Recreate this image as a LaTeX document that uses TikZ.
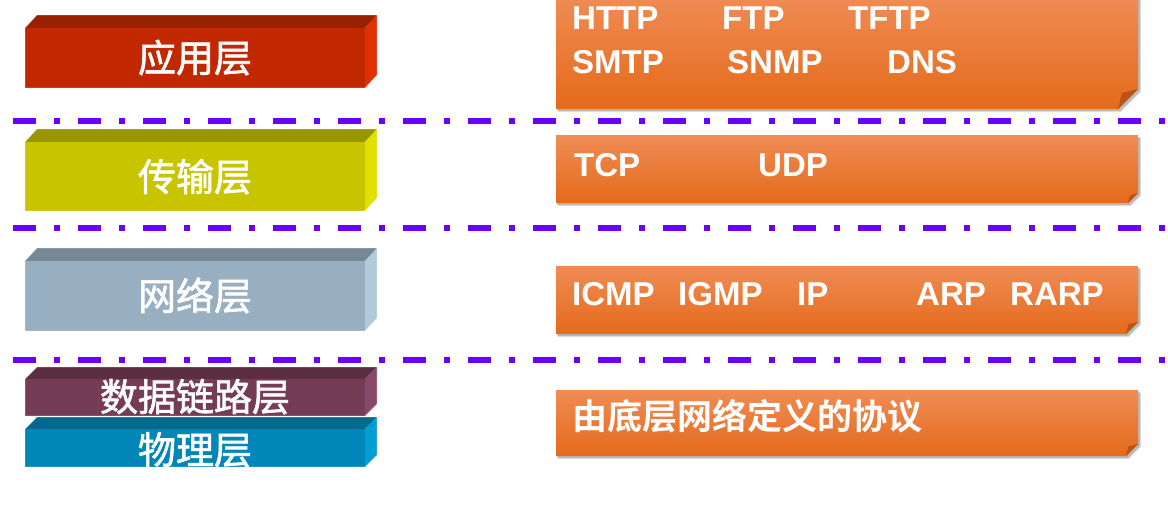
\documentclass[tikz,border=0pt]{standalone}
\usepackage{fontspec}
\setmainfont{Liberation Sans}
\newfontfamily\cjk[FakeBold=1.6]{Noto Sans CJK SC}
\newfontfamily\cjkb{Noto Sans CJK SC Bold}
\definecolor{sep}{HTML}{6A00FF}
\definecolor{orT}{HTML}{F08C55}
\definecolor{orM}{HTML}{F37E2F}
\definecolor{orB}{HTML}{E46A1B}
\definecolor{orF}{HTML}{B95414}
\definecolor{rF}{HTML}{C22800}\definecolor{rT}{HTML}{992000}\definecolor{rS}{HTML}{E03000}
\definecolor{yF}{HTML}{C8C400}\definecolor{yT}{HTML}{9A9600}\definecolor{yS}{HTML}{E0E000}
\definecolor{gF}{HTML}{98AFC2}\definecolor{gT}{HTML}{758896}\definecolor{gS}{HTML}{B0CADB}
\definecolor{pF}{HTML}{763C55}\definecolor{pT}{HTML}{5C2E42}\definecolor{pS}{HTML}{86496A}
\definecolor{bF}{HTML}{0087B8}\definecolor{bT}{HTML}{006A8E}\definecolor{bS}{HTML}{009ED4}
\tikzset{
  sepline/.style={draw=sep, line width=5.5pt, dash pattern=on 23pt off 18pt on 6pt off 18pt},
  cjklabel/.style={text=white, inner sep=0pt, anchor=base, font=\cjk\fontsize{38}{40}\selectfont},
  proto/.style={text=white, inner sep=0pt, anchor=base west, font=\bfseries\fontsize{33}{36}\selectfont},
  protocjk/.style={text=white, inner sep=0pt, anchor=base west, font=\cjkb\fontsize{35}{38}\selectfont},
  edge/.style={draw=white, draw opacity=0.35, line width=0.8pt}
}
% cuboid: #1 ytop front, #2 ybot, #3 front, #4 top, #5 side, #6 depth
\newcommand\mycuboid[6]{%
  \fill[#4] (25,#1) -- (25+12,#1-#6) -- (377,#1-#6) -- (365,#1) -- cycle;
  \fill[#5] (365,#1) -- (377,#1-#6) -- (377,#2-#6) -- (365,#2) -- cycle;
  \fill[#3] (25,#1) rectangle (365,#2);
  \draw[edge] (25,#2) -- (25,#1) -- (37,#1-#6) -- (377,#1-#6) -- (377,#2-#6) -- (365,#2) -- cycle;
}
% orange note: #1 ytop, #2 ybot, #3 fold
\newcommand\mynote[3]{%
  \fill[black, opacity=0.12] (558,#1+3) -- (1141,#1+3) -- (1141,#2+3-#3) -- (1141-#3,#2+3) -- (558,#2+3) -- cycle;
  \fill[black, opacity=0.18] (557,#1+2) -- (1140,#1+2) -- (1140,#2+2-#3) -- (1140-#3,#2+2) -- (557,#2+2) -- cycle;
  \shade[top color=orT, middle color=orM, bottom color=orB] (556,#1) -- (1138,#1) -- (1138,#2-#3) -- (1138-#3,#2) -- (556,#2) -- cycle;
  \fill[orF] (1138,#2-#3) -- (1138-0.8*#3,#2-0.8*#3) -- (1138-#3,#2) -- cycle;
}
\begin{document}
\begin{tikzpicture}[x=1pt, y=-1pt]
\useasboundingbox (0,0) rectangle (1168,504);
% layer boxes
\mycuboid{28}{88}{rF}{rT}{rS}{13}
\mycuboid{142}{211}{yF}{yT}{yS}{13}
\mycuboid{261}{331}{gF}{gT}{gS}{13}
\mycuboid{379}{416}{pF}{pT}{pS}{12}
\mycuboid{429}{467}{bF}{bT}{bS}{12}
\node[cjklabel] (app) at (195,72) {应用层};
\node[cjklabel] (trans) at (195,191) {传输层};
\node[cjklabel] (net) at (195,310) {网络层};
\node[cjklabel] (link) at (195,411) {数据链路层};
\node[cjklabel] (phys) at (195,464) {物理层};
% separators
\coordinate (s1a) at (13,121); \coordinate (s1b) at (1168,121);
\coordinate (s2a) at (13,228); \coordinate (s2b) at (1168,228);
\coordinate (s3a) at (13,360); \coordinate (s3b) at (1168,360);
\draw[sepline] (s1a) -- (s1b);
\draw[sepline] (s2a) -- (s2b);
\draw[sepline] (s3a) -- (s3b);
% protocol notes
\mynote{-6}{109}{20}
\mynote{135}{203}{10}
\mynote{266}{334}{12}
\mynote{390}{456}{12}
\node[proto] (http) at (572,29.5) {HTTP};
\node[proto] (ftp) at (722,29.5) {FTP};
\node[proto] (tftp) at (848,29.5) {TFTP};
\node[proto] (smtp) at (572,73) {SMTP};
\node[proto] (snmp) at (727,73) {SNMP};
\node[proto] (dns) at (887,73) {DNS};
\node[proto] (tcp) at (574,176) {TCP};
\node[proto] (udp) at (758,176) {UDP};
\node[proto] (icmp) at (572,305) {ICMP};
\node[proto] (igmp) at (678,305) {IGMP};
\node[proto] (ip) at (797,305) {IP};
\node[proto] (arp) at (916,305) {ARP};
\node[proto] (rarp) at (1010,305) {RARP};
\node[protocjk] (under) at (572,429) {由底层网络定义的协议};
\end{tikzpicture}
\end{document}
